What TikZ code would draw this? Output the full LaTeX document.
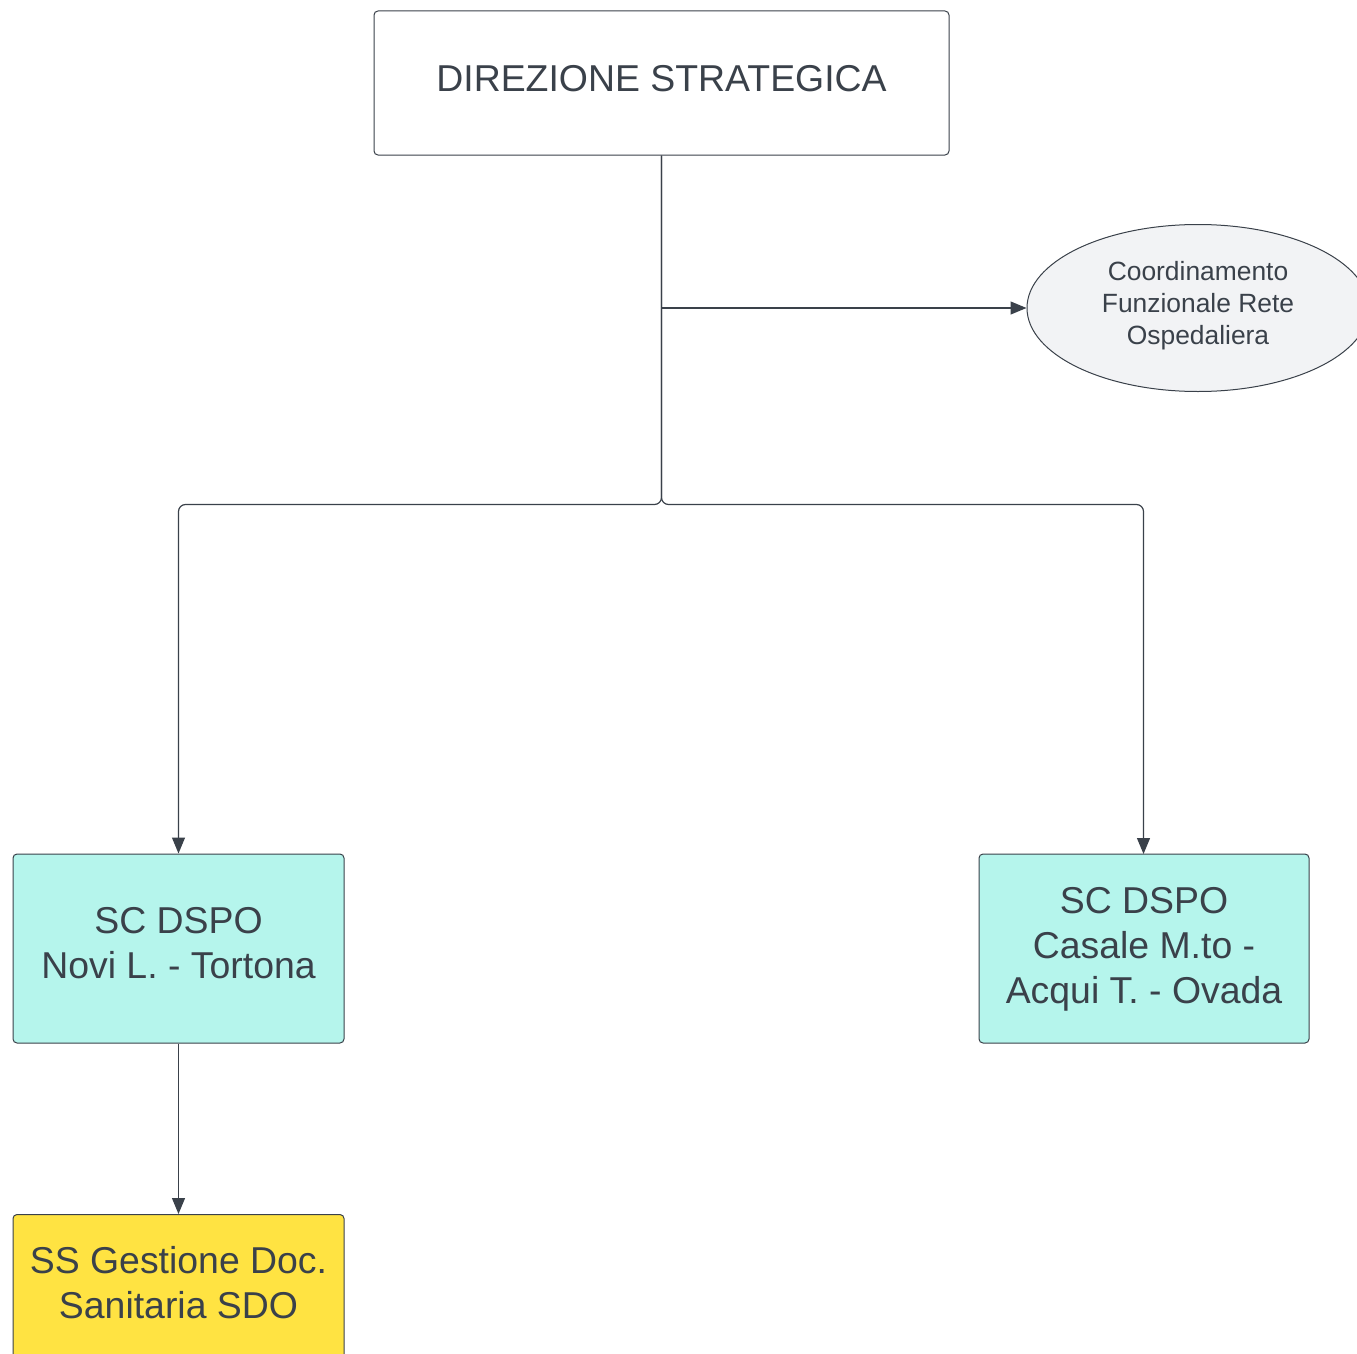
\documentclass[tikz,border=0pt]{standalone}
\usepackage{fontspec}
\setmainfont{Liberation Sans}
\usetikzlibrary{arrows.meta,shapes.geometric}
\definecolor{txt}{HTML}{3A414A}
\definecolor{ln}{HTML}{3A414A}
\definecolor{cyanfill}{HTML}{B5F5EC}
\definecolor{yelfill}{HTML}{FFE342}
\definecolor{ellfill}{HTML}{F2F3F5}
\begin{document}
\begin{tikzpicture}[x=1pt,y=-1pt,
  box/.style={draw=ln,line width=1pt,rounded corners=4pt,inner sep=0pt,align=center,text=txt},
  lbl/.style={text=txt,align=center,inner sep=0pt,font=\fontsize{37.4}{45}\selectfont},
  conn/.style={draw=ln,line width=1.2pt,-{Triangle[length=16pt,width=13pt]}}]
\useasboundingbox (0,0) rectangle (1357,1354);
\node[box,fill=white,minimum width=575pt,minimum height=144pt] (top) at (661.5,83) {};
\node[lbl] (toptext) at (661.5,78.5) {DIREZIONE STRATEGICA};
\node[draw=ln,line width=1pt,fill=ellfill,ellipse,minimum width=342pt,minimum height=167pt,inner sep=0pt,text=txt] (ell) at (1198,308) {};
\node[text=txt,align=center,inner sep=0pt,font=\fontsize{26.4}{32}\selectfont] (elltext) at (1198,306) {Coordinamento\\Funzionale Rete\\Ospedaliera};
\node[box,fill=cyanfill,minimum width=331pt,minimum height=189pt] (left) at (178.5,948.5) {};
\node[lbl] (lefttext) at (178.5,943.5) {SC DSPO\\Novi L. - Tortona};
\node[box,fill=cyanfill,minimum width=330pt,minimum height=189pt] (right) at (1144,948.5) {};
\node[lbl] (righttext) at (1144,949.5) {SC DSPO\\Casale M.to -\\Acqui T. - Ovada};
\node[box,fill=yelfill,minimum width=331pt,minimum height=170pt,anchor=north] (ss) at (178.5,1214) {};
\node[lbl] (sstext) at (178.5,1283) {SS Gestione Doc.\\Sanitaria SDO};
\coordinate (j) at (661.5,504.5);
\coordinate (h) at (661.5,308);
\draw[conn,rounded corners=7pt] (top.south) -- (j) -- (178.5,504.5) -- (left.north);
\draw[conn,rounded corners=7pt] (top.south) -- (j) -- (1143.5,504.5) -- (1143.5,854);
\draw[conn] (h) -- (ell.west);
\draw[conn] (left.south) -- (ss.north);
\end{tikzpicture}
\end{document}
